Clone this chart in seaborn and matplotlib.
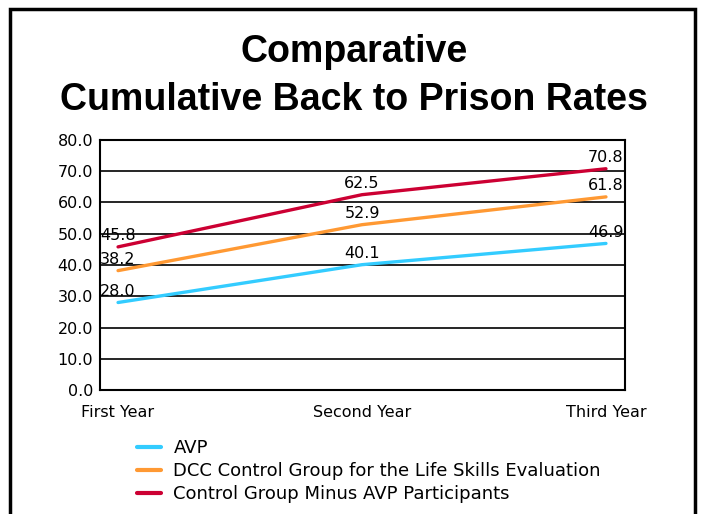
import matplotlib
matplotlib.use("Agg")
import matplotlib.pyplot as plt
import matplotlib.patches as mpatches
import pandas as pd
import seaborn as sns

# Data
years = ['First Year', 'Second Year', 'Third Year']
avp = [28.0, 40.1, 46.9]
dcc = [38.2, 52.9, 61.8]
control = [45.8, 62.5, 70.8]
series_names = ['AVP',
                'DCC Control Group for the Life Skills Evaluation',
                'Control Group Minus AVP Participants']
colors = ['#33CCFF', '#FF9933', '#CC0033']

rows = []
for name, vals in zip(series_names, [avp, dcc, control]):
    for i, (yr, v) in enumerate(zip(years, vals)):
        rows.append({'Year': yr, 'pos': i, 'Rate': v, 'Group': name})
df = pd.DataFrame(rows)

sns.set_style("white")
plt.rcParams['font.family'] = ['DejaVu Sans']
plt.rcParams['text.color'] = 'black'

fig = plt.figure(figsize=(7.04, 5.14), dpi=100)
ax = fig.add_axes([100 / 704, 1 - 390 / 514, 525 / 704, 250 / 514])

sns.lineplot(data=df, x='pos', y='Rate', hue='Group', palette=colors,
             hue_order=series_names, linewidth=2.4, ax=ax, legend=False)

# value labels
for name, vals in zip(series_names, [avp, dcc, control]):
    for i, v in enumerate(vals):
        ax.annotate(f"{v:.1f}", (i, v), xytext=(0, 2.5), textcoords='offset points',
                    ha='center', va='bottom', fontsize=11.5, color='black',
                    clip_on=True, annotation_clip=False)

ax.set_xlim(-0.074, 2.078)
ax.set_ylim(0, 80)
ax.set_yticks(range(0, 81, 10))
ax.set_yticklabels([f"{t:.1f}" for t in range(0, 81, 10)], fontsize=11.5)
ax.set_xticks([0, 1, 2])
ax.set_xticklabels(years, fontsize=11.5)
ax.set_xlabel('')
ax.set_ylabel('')
ax.yaxis.grid(True, color='black', linewidth=1.2)
ax.set_axisbelow(True)
for s in ax.spines.values():
    s.set_color('black')
    s.set_linewidth(1.5)
ax.tick_params(axis='y', length=0, pad=5, colors='black')
ax.tick_params(axis='x', length=0, pad=11, colors='black')

# title
fig.text(0.503, 1 - 52 / 514, 'Comparative', ha='center', va='center',
         fontsize=27, fontweight='bold', family='Liberation Sans', color='black')
fig.text(0.503, 1 - 100 / 514, 'Cumulative Back to Prison Rates', ha='center',
         va='center', fontsize=27, fontweight='bold', family='Liberation Sans',
         color='black')

# legend
handles = [plt.Line2D([], [], color=c, linewidth=3) for c in colors]
fig.legend(handles, series_names, loc='upper left',
           bbox_to_anchor=(121 / 704, 1 - 423 / 514), frameon=False,
           fontsize=13, handlelength=1.3, handletextpad=0.7, labelspacing=0.28)

# outer frame
fig.patches.append(mpatches.Rectangle((10 / 704, -0.05), 685 / 704, 1.05 - 9 / 514,
                                      transform=fig.transFigure, fill=False,
                                      edgecolor='black', linewidth=2.5))

fig.savefig('out.png', dpi=100)
